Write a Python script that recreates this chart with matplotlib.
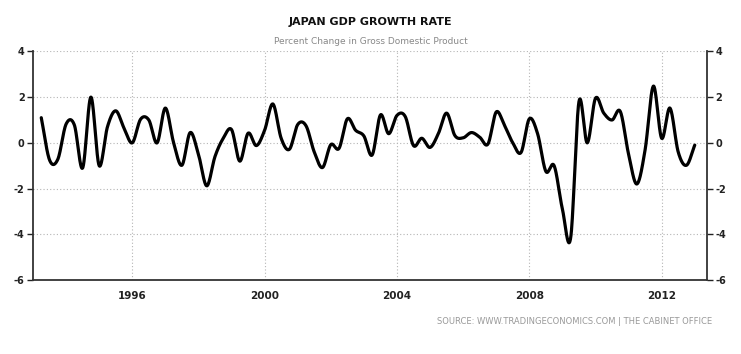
import numpy as np
import matplotlib
matplotlib.use('Agg')
import matplotlib.pyplot as plt

# quarterly GDP growth, Q1 1993 .. Q4 2012 (percent, q/q)
start_year = 1993
growth = [1.1, -0.75, -0.72, 0.82, 0.78, -1.1, 2.0, -1.0,
          0.7, 1.4, 0.65, 0.0, 1.03, 1.0, 0.0, 1.52,
          0.0, -0.98, 0.45, -0.5, -1.88, -0.6, 0.2, 0.58,
          -0.8, 0.42, -0.12, 0.55, 1.7, 0.2, -0.28, 0.8,
          0.75, -0.4, -1.08, -0.08, -0.24, 1.05, 0.55, 0.3,
          -0.53, 1.22, 0.4, 1.2, 1.15, -0.12, 0.2, -0.2,
          0.4, 1.3, 0.32, 0.22, 0.45, 0.25, -0.05, 1.35,
          0.76, 0.0, -0.42, 1.05, 0.4, -1.25, -1.0, -2.9,
          -4.15, 1.8, 0.0, 1.95, 1.3, 1.0, 1.37, -0.5,
          -1.8, -0.3, 2.48, 0.2, 1.52, -0.4, -0.98, -0.1]
year_ticks = [1996, 2000, 2004, 2008, 2012]
y_ticks = [4, 2, 0, -2, -4, -6]

title = 'JAPAN GDP GROWTH RATE'
subtitle = 'Percent Change in Gross Domestic Product'
source = 'SOURCE: WWW.TRADINGECONOMICS.COM | THE CABINET OFFICE'


def smooth_line(x, y, per_seg=30):
    # catmull-rom through the points
    x = np.asarray(x, float)
    y = np.asarray(y, float)
    n = len(x)
    m = np.zeros(n)
    m[1:-1] = (y[2:] - y[:-2]) / 2.
    m[0] = y[1] - y[0]
    m[-1] = y[-1] - y[-2]
    xs, ys = [], []
    u = np.linspace(0, 1, per_seg, endpoint=False)
    h00 = 2 * u**3 - 3 * u**2 + 1
    h10 = u**3 - 2 * u**2 + u
    h01 = -2 * u**3 + 3 * u**2
    h11 = u**3 - u**2
    for i in range(n - 1):
        xs.append(x[i] + u * (x[i + 1] - x[i]))
        ys.append(h00 * y[i] + h10 * m[i] + h01 * y[i + 1] + h11 * m[i + 1])
    xs.append([x[-1]])
    ys.append([y[-1]])
    return np.concatenate(xs), np.concatenate(ys)


# points sit at quarter ends
t = start_year + 0.25 * (np.arange(len(growth)) + 1)
ts, ys = smooth_line(t, growth)

fig = plt.figure(figsize=(7.41, 3.54), dpi=100)
ax = fig.add_axes([33 / 741., 1 - 280 / 354., 674 / 741., 228.6 / 354.])

ax.plot(ts, ys, color='black', lw=2.3, solid_capstyle='round')

ax.set_xlim(1993.0, 2013.37)
ax.set_ylim(-6, 4)
ax.set_xticks(year_ticks)
ax.set_yticks(y_ticks)
ax.set_yticklabels([str(v) for v in y_ticks])

ax.grid(True, color='#b5b5b5', ls=(0, (1, 2)), lw=0.8)
ax.set_axisbelow(True)

for side in ['left', 'right', 'bottom']:
    ax.spines[side].set_color('#333333')
    ax.spines[side].set_linewidth(1.3)
ax.spines['top'].set_visible(False)

ax.tick_params(axis='x', length=0, pad=8, labelsize=7.5, colors='#222222')
ax.tick_params(axis='y', direction='out', length=4, width=1,
               left=True, right=True, labelleft=True, labelright=True,
               labelsize=7, pad=2, colors='#222222')
for lab in ax.get_xticklabels() + ax.get_yticklabels():
    lab.set_fontweight('bold')
for tk in ax.yaxis.get_major_ticks():
    tk.label2.set_fontweight('bold')

fig.text(0.5, 1 - 22 / 354., title, ha='center', va='center',
         fontsize=8, fontweight='bold', color='#111111')
fig.text(0.5, 1 - 41 / 354., subtitle, ha='center', va='center',
         fontsize=6.5, color='#888888')
fig.text(712 / 741., 1 - 322 / 354., source, ha='right', va='center',
         fontsize=6, color='#999999')

fig.savefig('out.png', dpi=100)
